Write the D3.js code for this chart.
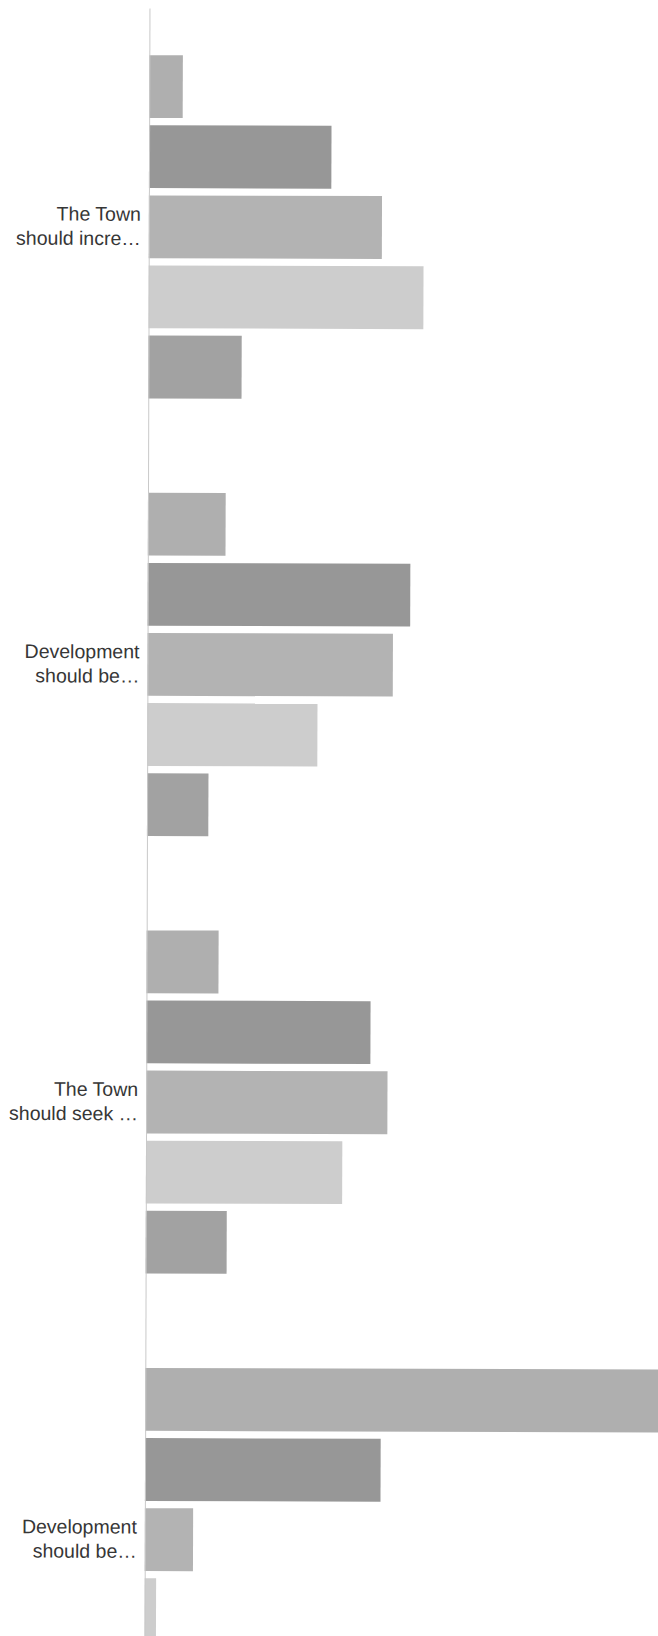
<!DOCTYPE html>
<html>
<head>
<meta charset="utf-8">
<script src="https://cdn.jsdelivr.net/npm/d3@7"></script>
<style>
  html, body { margin: 0; padding: 0; background: #ffffff; overflow: hidden; }
  svg { display: block; }
</style>
</head>
<body>
<svg id="chart" width="658" height="1636"></svg>
<script>
// ---- Data (percent of respondents) ----
const categories = ["q1", "q2", "q3", "q4"];
const categoryLabels = [
  ["The Town", "should incre\u2026"],
  ["Development", "should be\u2026"],
  ["The Town", "should seek \u2026"],
  ["Development", "should be\u2026"]
];
const seriesNames = ["Response 1", "Response 2", "Response 3", "Response 4", "Response 5"];
const series1 = [4.1, 9.5, 8.8, 63.0];
const series2 = [22.3, 32.1, 27.4, 28.8];
const series3 = [28.5, 30.0, 29.5, 5.9];
const series4 = [33.6, 20.8, 24.0, 1.4];
const series5 = [11.4, 7.5, 9.9, null];
const seriesColors = ["#afafaf", "#979797", "#b3b3b3", "#cdcdcd", "#a2a2a2"];

const seriesValues = [series1, series2, series3, series4, series5];
const rows = [];
categories.forEach((c, gi) => {
  seriesNames.forEach((s, si) => {
    const v = seriesValues[si][gi];
    if (v != null) rows.push({ category: c, series: s, value: v, color: seriesColors[si] });
  });
});

// ---- Layout ----
const svg = d3.select("#chart");
const originX = 149.5;
const tilt = 0.175; // the scanned chart is slightly rotated

const g = svg.append("g")
  .attr("transform", `translate(${originX},0) rotate(${tilt})`);

const groupStep = 437.6;
const y0 = d3.scaleBand()
  .domain(categories)
  .range([8, 8 + categories.length * groupStep])
  .paddingInner(0.2157)
  .paddingOuter(0.1078);

const y1 = d3.scaleBand()
  .domain(seriesNames)
  .range([0, y0.bandwidth()])
  .paddingInner(0.104)
  .paddingOuter(0);

const x = d3.scaleLinear().domain([0, 100]).range([0, 818]);

// bars
g.append("g").selectAll("rect")
  .data(rows)
  .join("rect")
  .attr("x", x(0))
  .attr("y", d => y0(d.category) + y1(d.series))
  .attr("width", d => x(d.value) - x(0))
  .attr("height", y1.bandwidth())
  .attr("fill", d => d.color);

// vertical axis line
const axis = d3.axisLeft(y0).tickSize(0).tickSizeOuter(0).tickFormat("");
const axisG = g.append("g").call(axis);
axisG.select(".domain").attr("stroke", "#c9c9c9").attr("stroke-width", 1);

// category labels (two lines each)
const labels = g.append("g")
  .attr("font-family", "'Liberation Sans', Arial, sans-serif")
  .attr("font-size", 19.5)
  .attr("fill", "#363636")
  .attr("text-anchor", "end");

categories.forEach((c, i) => {
  const cy = y0(c) + y0.bandwidth() / 2;
  const t = labels.append("text").attr("x", -8).attr("y", cy - 6);
  categoryLabels[i].forEach((line, li) => {
    t.append("tspan")
      .attr("x", -8)
      .attr("y", cy - 6 + li * 24.3)
      .text(line);
  });
});
</script>
</body>
</html>
